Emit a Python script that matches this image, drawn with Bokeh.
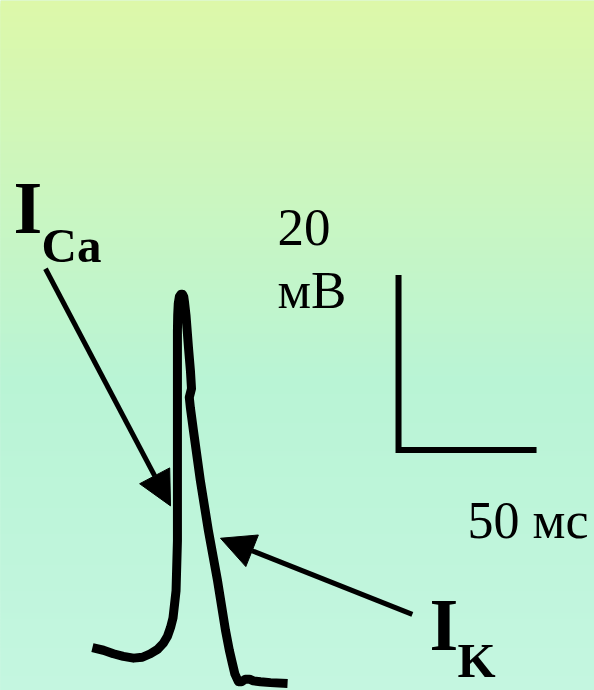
from bokeh.plotting import figure
from bokeh.models import Range1d, Label, Arrow, NormalHead
from bokeh.embed import file_html
from bokeh.resources import INLINE

# Membrane potential trace: time (ms) and voltage (mV, relative to rest)
t_ms = [0.0, 4.0, 7.6, 11.2, 14.9, 18.1, 21.0, 23.6, 25.7, 27.2, 28.3, 29.2,
        29.7, 30.3, 30.5, 30.8, 30.8, 30.8, 30.8, 30.9, 31.1, 31.5, 32.1, 32.6,
        33.1, 33.4, 33.9, 34.8, 35.5, 35.9, 35.1, 35.5, 36.6, 39.1, 42.0, 45.3,
        48.2, 49.6, 50.7, 51.6, 52.9, 54.0, 55.4, 56.9, 58.3, 60.9, 64.5, 70.7]
v_mv = [0.9, 0.6, 0.2, -0.1, -0.3, -0.2, 0.2, 0.7, 1.4, 2.2, 3.2, 4.3,
        5.7, 7.4, 9.7, 13.1, 20.0, 29.1, 37.1, 38.9, 40.2, 41.0, 41.3, 41.3,
        41.0, 40.3, 38.9, 35.2, 32.6, 30.5, 29.5, 28.3, 25.7, 20.0, 14.3, 8.6,
        2.9, 0.6, -0.9, -2.1, -3.0, -3.0, -2.7, -2.7, -2.9, -3.0, -3.1, -3.2]

# Scale bar: 50 ms horizontally, 20 mV vertically
bar_t0, bar_v0 = 110.9, 23.5
bar_dt, bar_dv = 50, 20

# Arrows: (t_start, v_start, t_end, v_end)
arrow_ca = (-17.0, 44.2, 28.3, 17.1)
arrow_k = (115.9, 4.7, 46.4, 13.4)

W, H = 594, 690
x0, x1 = -33.3, 181.9
y0, y1 = -4.0, 74.86

p = figure(width=W, height=H, output_backend="svg", toolbar_location=None,
           x_range=Range1d(x0, x1), y_range=Range1d(y0, y1),
           x_axis_location=None, y_axis_location=None, min_border=0,
           background_fill_color="#bef4d6", border_fill_color="#bef4d6")
p.grid.visible = False
p.outline_line_color = None

# Vertical background gradient: yellow-green on top to mint below
stops = [(0.0, (221, 248, 169)), (0.55, (185, 244, 213)), (1.0, (196, 246, 224))]


def grad(f):
    for (fa, ca), (fb, cb) in zip(stops[:-1], stops[1:]):
        if fa <= f <= fb:
            k = (f - fa) / (fb - fa)
            c = [round(a + (b - a) * k) for a, b in zip(ca, cb)]
            return "#%02x%02x%02x" % tuple(c)
    return "#%02x%02x%02x" % stops[-1][1]


n = 230
step = (y1 - y0) / n
pad_x = (x1 - x0) * 0.05
tops, bottoms, cols = [], [], []
for i in range(n):
    top = y1 - i * step
    tops.append(top + (step * 3 if i == 0 else 0))
    bottoms.append(top - step * (6 if i == n - 1 else 3))
    cols.append(grad((i + 0.5) / n))
p.quad(left=x0 - pad_x, right=x1 + pad_x, top=tops, bottom=bottoms,
       color=cols, line_color=None)

# Action potential
p.line(t_ms, v_mv, line_width=9, line_color="black", line_join="round", line_cap="butt")

# Scale bar
p.line([bar_t0, bar_t0, bar_t0 + bar_dt], [bar_v0 + bar_dv, bar_v0, bar_v0],
       line_width=6, line_color="black", line_join="miter", line_cap="butt")

for (xs, ys, xe, ye) in (arrow_ca, arrow_k):
    p.add_layout(Arrow(x_start=xs, y_start=ys, x_end=xe, y_end=ye,
                       line_width=5, line_color="black",
                       end=NormalHead(size=34, fill_color="black", line_color="black", line_width=1)))

serif = "Liberation Serif"


def label(px, py, text, size, bold=False):
    # py is the text baseline measured from the top edge
    p.add_layout(Label(x=px, y=H - py + 0.34 * size, x_units="screen", y_units="screen",
                       text=text, text_font=serif, text_font_size=f"{size}px",
                       text_font_style="bold" if bold else "normal",
                       text_color="black", text_baseline="alphabetic", text_align="left"))


label(13, 233, "I", 74, True)
label(41, 262, "Ca", 49, True)
label(429, 650, "I", 74, True)
label(457, 677, "K", 49, True)
label(277, 245, "20", 53)
label(277, 308, "мВ", 53)
label(467, 538, "50 мс", 52)

open("out.html", "w").write(file_html(p, INLINE))
